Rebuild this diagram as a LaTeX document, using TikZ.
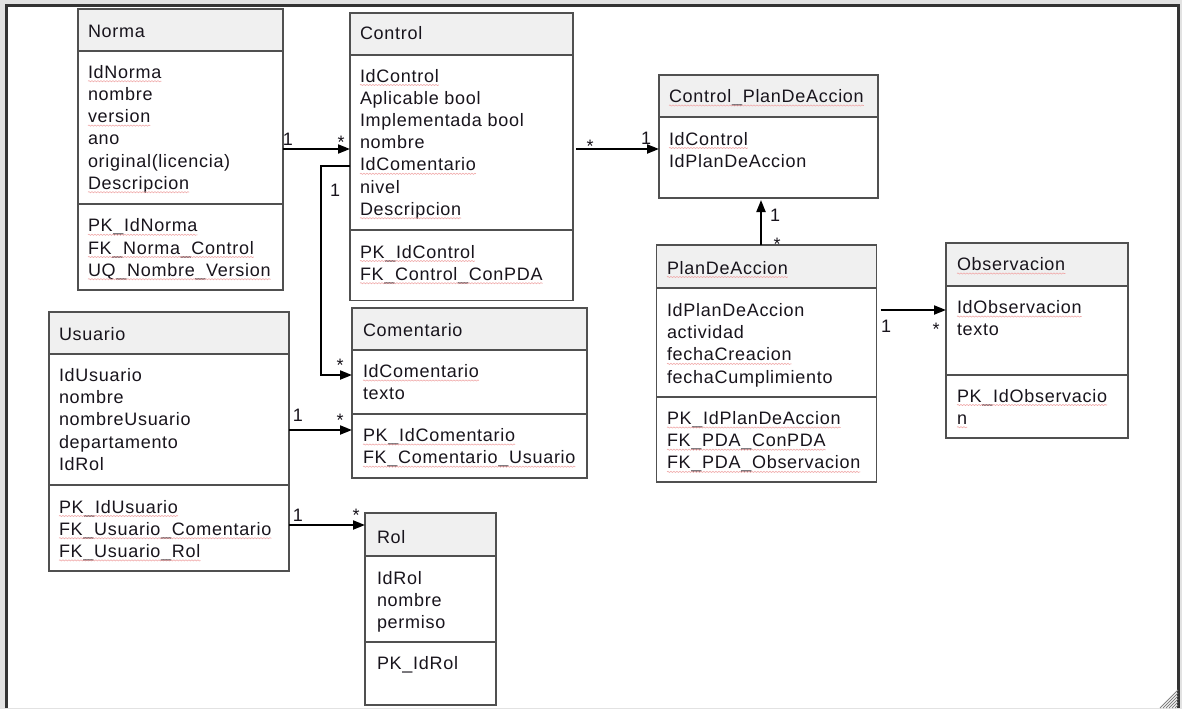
\documentclass[tikz,border=0pt]{standalone}
\usepackage{fontspec}
\setmainfont{Liberation Sans}
\newfontfamily\diagfont{Liberation Sans}[LetterSpace=4.0]
\usetikzlibrary{arrows.meta,calc,decorations.pathmorphing}

\definecolor{framegray}{HTML}{E2E2E2}
\definecolor{headfill}{HTML}{F0F0F0}
\definecolor{boxline}{HTML}{505050}
\definecolor{inktext}{HTML}{18141C}
\definecolor{spellred}{HTML}{F0A8A8}

\newcommand\entryfont{\diagfont\fontsize{18}{22}\selectfont}

\tikzset{
  entity/.style={draw=boxline, line width=1.4pt, inner sep=0pt, outer sep=0pt},
  divider/.style={draw=boxline, line width=1.4pt},
  entry/.style={anchor=base west, inner sep=0pt, outer sep=0pt, text=inktext, font=\entryfont},
  squiggle/.style={draw=spellred, line width=0.6pt, decorate,
    decoration={snake, amplitude=0.6pt, segment length=3pt}},
  sp/.style={append after command={
    ($(\tikzlastnode.base west)+(0,3)$) edge[squiggle] ($(\tikzlastnode.base east)+(0,3)$)}},
  nosp/.style={},
  rel/.style={draw=black, line width=2pt, -{Triangle[length=12pt,width=9pt]}},
  card/.style={anchor=base, inner sep=0pt, outer sep=0pt, text=inktext, font=\entryfont},
}

% entity box: name, left, top, right, bottom, header bottom
\newcommand\entitybox[6]{%
  \fill[headfill] (#2,#3) rectangle (#4,#6);
  \node[entity, anchor=north west, minimum width={(#4)-(#2)}, minimum height={(#5)-(#3)}] (#1) at (#2,#3) {};
  \draw[divider] (#2,#6) -- (#4,#6);
}

% list of lines: name prefix, x, first baseline, style/text pairs
\newcommand\entries[4]{%
  \foreach \fmt/\txt [count=\k] in {#4}
    \node[entry, \fmt] (#1-\k) at (#2, {#3+(\k-1)*22.2}) {\txt};
}

\begin{document}
\begin{tikzpicture}[x=1pt, y=-1pt]
\useasboundingbox (0,0) rectangle (1182,709);

% window frame
\fill[framegray] (0,0) rectangle (1182,709);
\fill[white] (5,5) rectangle (1179,708);
\draw[line width=2.5pt, black!80] (6.5,708) -- (6.5,5.5) -- (1178.5,5.5) -- (1178.5,708);
\foreach \d in {3,6,...,18}
  \draw[gray, line width=0.8pt] ({1178-\d},708) -- (1178,{708-\d});

% Norma
\entitybox{norma}{78}{9}{283}{290}{51}
\draw[divider] (78,204) -- (283,204);
\node[entry] (norma-title) at (88,37.5) {Norma};
\entries{norma}{88}{78.2}{sp/IdNorma, nosp/nombre, sp/version, nosp/ano, nosp/original(licencia), sp/Descripcion}
\entries{normak}{88}{231.8}{sp/PK\_IdNorma, sp/FK\_Norma\_Control, sp/UQ\_Nombre\_Version}

% Control
\entitybox{control}{350}{13}{573}{300.5}{55}
\draw[divider] (350,230) -- (573,230);
\node[entry] (control-title) at (360,40) {Control};
\entries{control}{360}{82}{sp/IdControl, nosp/Aplicable bool, nosp/Implementada bool, nosp/nombre, sp/IdComentario, nosp/nivel, sp/Descripcion}
\entries{controlk}{360}{258}{sp/PK\_IdControl, sp/FK\_Control\_ConPDA}

% Control_PlanDeAccion
\entitybox{cpda}{659}{75}{878}{198}{117}
\node[entry, sp] (cpda-title) at (669,102.5) {Control\_PlanDeAccion};
\entries{cpda}{669}{145}{sp/IdControl, nosp/IdPlanDeAccion}

% PlanDeAccion
\entitybox{pda}{656.5}{245}{876.5}{482}{288}
\draw[divider] (656.5,397) -- (876.5,397);
\node[entry, sp] (pda-title) at (667,274) {PlanDeAccion};
\entries{pda}{667}{316.5}{nosp/IdPlanDeAccion, nosp/actividad, sp/fechaCreacion, nosp/fechaCumplimiento}
\entries{pdak}{667}{424.5}{sp/PK\_IdPlanDeAccion, sp/FK\_PDA\_ConPDA, sp/FK\_PDA\_Observacion}

% Observacion
\entitybox{obs}{946}{243}{1128}{438}{286}
\draw[divider] (946,375) -- (1128,375);
\node[entry, sp] (obs-title) at (957,270.5) {Observacion};
\entries{obs}{957}{313.5}{sp/IdObservacion, nosp/texto}
\entries{obsk}{957}{402}{sp/PK\_IdObservacio, sp/n}

% Comentario
\entitybox{com}{352}{308}{587}{478}{350}
\draw[divider] (352,414) -- (587,414);
\node[entry] (com-title) at (363,336.5) {Comentario};
\entries{com}{363}{377.5}{sp/IdComentario, nosp/texto}
\entries{comk}{363}{441.5}{sp/PK\_IdComentario, sp/FK\_Comentario\_Usuario}

% Usuario
\entitybox{usr}{49}{312}{289}{571}{354}
\draw[divider] (49,485) -- (289,485);
\node[entry] (usr-title) at (59,340.5) {Usuario};
\entries{usr}{59}{381.5}{nosp/IdUsuario, nosp/nombre, nosp/nombreUsuario, nosp/departamento, nosp/IdRol}
\entries{usrk}{59}{513}{sp/PK\_IdUsuario, sp/FK\_Usuario\_Comentario, sp/FK\_Usuario\_Rol}

% Rol
\entitybox{rol}{365}{513}{496}{705}{556}
\draw[divider] (365,642) -- (496,642);
\node[entry] (rol-title) at (377,543) {Rol};
\entries{rol}{377}{584}{nosp/IdRol, nosp/nombre, nosp/permiso}
\entries{rolk}{377}{669.5}{nosp/PK\_IdRol}

% connector levels
\coordinate (rowA) at (0,149);
\coordinate (rowB) at (0,166);
\coordinate (rowC) at (0,375);
\coordinate (rowD) at (0,310);
\coordinate (rowE) at (0,430);
\coordinate (rowF) at (0,525);
\coordinate (colA) at (761,0);

% relationships
\draw[rel] (norma.east |- rowA) -- (control.west |- rowA);
\draw[rel] (control.west |- rowB) -- ++(-29,0) |- (com.west |- rowC);
\draw[rel, shorten <=3pt] (control.east |- rowA) -- (cpda.west |- rowA);
\draw[rel, shorten >=2pt] (pda.north -| colA) -- (cpda.south -| colA);
\draw[rel, shorten <=4pt] (pda.east |- rowD) -- (obs.west |- rowD);
\draw[rel] (usr.east |- rowE) -- (com.west |- rowE);
\draw[rel] (usr.east |- rowF) -- (rol.west |- rowF);

% multiplicities
\node[card] (m1a) at (288,145) {1};
\node[card] (m1b) at (341,148) {*};
\node[card] (m2a) at (335,196) {1};
\node[card] (m2b) at (340,371) {*};
\node[card] (m3a) at (590,152) {*};
\node[card] (m3b) at (646,144) {1};
\node[card] (m4a) at (775,221) {1};
\node[card] (m4b) at (777,250) {*};
\node[card] (m5a) at (886,332) {1};
\node[card] (m5b) at (936,335) {*};
\node[card] (m6a) at (298,421) {1};
\node[card] (m6b) at (340,426) {*};
\node[card] (m7a) at (298,521) {1};
\node[card] (m7b) at (356,521) {*};
\end{tikzpicture}
\end{document}
